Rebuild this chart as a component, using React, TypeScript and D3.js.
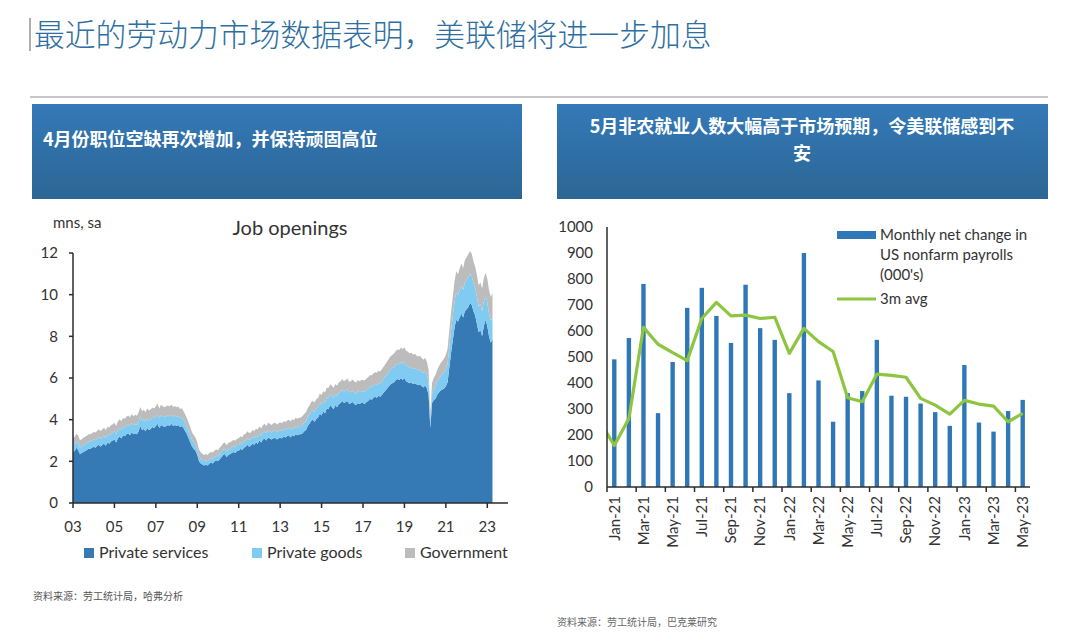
import React from 'react';
import * as d3 from 'd3';

// ---- Left chart: JOLTS job openings, mns, sa (monthly, Jan-2003 .. Apr-2023) ----
const startYear = 2003;

const privateServices = [
  2.45, 2.5, 2.65, 2.55, 2.35, 2.4, 2.45, 2.5, 2.55, 2.6, 2.6, 2.65,
  2.7, 2.65, 2.75, 2.8, 2.7, 2.8, 2.85, 2.75, 2.9, 2.85, 2.95, 3.0,
  3.05, 2.9, 3.1, 3.2, 3.1, 3.25, 3.2, 3.3, 3.35, 3.25, 3.4, 3.3,
  3.35, 3.3, 3.45, 3.7, 3.5, 3.55, 3.45, 3.6, 3.5, 3.55, 3.65, 3.6,
  3.7, 3.8, 3.6, 3.75, 3.7, 3.65, 3.7, 3.75, 3.7, 3.8, 3.7, 3.75,
  3.7, 3.75, 3.65, 3.7, 3.6, 3.45, 3.3, 3.1, 2.9, 2.7, 2.6, 2.5,
  2.3, 2.0, 1.9, 1.85, 1.8, 1.85, 1.8, 1.9, 1.95, 1.9, 2.0, 2.05,
  2.0, 2.1, 2.2, 2.3, 2.35, 2.2, 2.3, 2.35, 2.4, 2.45, 2.4, 2.5,
  2.5, 2.6, 2.55, 2.65, 2.7, 2.8, 2.7, 2.75, 2.85, 2.8, 2.9, 2.85,
  3.0, 2.9, 3.05, 3.1, 3.0, 3.15, 3.1, 3.05, 3.1, 3.15, 3.05, 3.1,
  3.15, 3.1, 3.2, 3.15, 3.2, 3.25, 3.15, 3.25, 3.2, 3.3, 3.25, 3.3,
  3.3, 3.35, 3.45, 3.5, 3.7, 3.8, 3.95, 4.0, 3.9, 4.05, 4.1, 4.3,
  4.2, 4.4, 4.3, 4.55, 4.5, 4.7, 4.6, 4.5, 4.7, 4.6, 4.75, 4.8,
  4.9, 4.8, 4.85, 4.9, 4.75, 4.8, 4.85, 4.75, 4.7, 4.8, 4.75, 4.8,
  4.8, 4.75, 4.85, 4.9, 5.0, 4.95, 5.05, 5.1, 5.05, 5.15, 5.1, 5.2,
  5.3, 5.4, 5.5, 5.6, 5.7, 5.75, 5.8, 5.9, 5.95, 5.9, 6.0, 5.9,
  6.0, 5.85, 5.8, 5.75, 5.8, 5.7, 5.75, 5.7, 5.65, 5.7, 5.6, 5.55,
  5.65, 5.5, 5.2, 3.6, 4.8, 4.95, 5.0, 5.2, 5.3, 5.4, 5.45, 5.5,
  5.6, 5.8, 6.5, 7.2, 7.8, 8.4, 8.8, 8.7, 8.9, 9.1, 8.9, 9.2,
  9.3, 9.4, 9.6, 9.5, 9.2, 9.0, 8.6, 8.2, 8.3, 8.0, 8.5, 8.8,
  8.5, 8.0, 7.7, 7.85,
];

const privateGoods = [
  .33, .32, .33, .34, .32, .33, .34, .33, .34, .35, .34, .35,
  .35, .36, .35, .37, .36, .37, .38, .37, .38, .39, .38, .39,
  .40, .39, .41, .40, .42, .41, .42, .43, .42, .43, .44, .43,
  .44, .45, .44, .46, .45, .46, .45, .47, .46, .47, .46, .47,
  .47, .48, .46, .47, .46, .47, .46, .45, .46, .45, .44, .45,
  .44, .43, .42, .42, .40, .39, .37, .36, .34, .32, .30, .28,
  .26, .24, .22, .21, .20, .20, .21, .20, .21, .22, .21, .22,
  .23, .24, .25, .26, .25, .26, .27, .26, .27, .28, .27, .28,
  .29, .30, .29, .31, .30, .31, .32, .31, .32, .33, .32, .33,
  .33, .34, .33, .34, .35, .34, .35, .34, .35, .36, .35, .36,
  .36, .35, .36, .37, .36, .37, .38, .37, .38, .39, .38, .39,
  .40, .41, .42, .43, .44, .45, .46, .47, .48, .49, .50, .51,
  .52, .51, .53, .52, .54, .53, .55, .54, .53, .54, .55, .54,
  .55, .54, .55, .56, .55, .54, .55, .56, .55, .56, .57, .56,
  .57, .58, .59, .58, .60, .61, .60, .62, .63, .62, .64, .65,
  .66, .67, .68, .70, .71, .72, .73, .74, .75, .76, .77, .78,
  .78, .76, .77, .75, .74, .75, .73, .72, .71, .72, .70, .69,
  .68, .66, .60, .30, .45, .52, .58, .62, .66, .70, .74, .78,
  .82, .88, .98, 1.08, 1.18, 1.25, 1.30, 1.28, 1.32, 1.35, 1.33, 1.38,
  1.40, 1.42, 1.40, 1.38, 1.35, 1.30, 1.28, 1.22, 1.25, 1.20, 1.18, 1.15,
  1.12, 1.10, 1.05, 1.02,
];

const government = [
  .36, .35, .34, .35, .34, .33, .34, .35, .34, .35, .36, .35,
  .36, .37, .36, .37, .38, .37, .38, .39, .38, .39, .40, .39,
  .40, .41, .40, .42, .41, .42, .43, .42, .43, .44, .43, .44,
  .45, .44, .46, .45, .46, .47, .46, .47, .48, .47, .48, .47,
  .48, .49, .48, .50, .49, .48, .49, .48, .47, .48, .47, .46,
  .46, .45, .44, .43, .42, .41, .40, .39, .38, .37, .36, .35,
  .34, .33, .32, .31, .30, .30, .29, .30, .29, .30, .31, .30,
  .30, .31, .30, .31, .30, .31, .32, .31, .30, .31, .32, .31,
  .32, .31, .32, .33, .32, .33, .34, .33, .34, .33, .34, .35,
  .35, .34, .35, .36, .35, .36, .35, .36, .37, .36, .37, .36,
  .37, .38, .37, .38, .39, .38, .39, .40, .39, .40, .41, .40,
  .41, .42, .41, .43, .42, .43, .44, .43, .44, .45, .44, .45,
  .46, .45, .47, .46, .48, .47, .48, .49, .48, .49, .50, .49,
  .50, .51, .50, .52, .51, .52, .53, .52, .53, .54, .53, .54,
  .54, .55, .54, .56, .55, .56, .57, .56, .57, .58, .57, .58,
  .59, .60, .61, .62, .63, .64, .65, .66, .67, .68, .69, .70,
  .70, .69, .70, .68, .69, .67, .68, .66, .67, .65, .66, .64,
  .64, .62, .60, .45, .52, .54, .56, .58, .60, .62, .64, .66,
  .70, .74, .80, .86, .92, .98, 1.02, 1.00, 1.04, 1.06, 1.04, 1.08,
  1.10, 1.12, 1.10, 1.08, 1.06, 1.04, 1.06, 1.02, 1.05, 1.08, 1.12, 1.10,
  1.15, 1.12, 1.14, 1.20,
];

const leftYTicks = [0, 2, 4, 6, 8, 10, 12];
const leftXTicks = [2003, 2005, 2007, 2009, 2011, 2013, 2015, 2017, 2019, 2021, 2023];

const seriesNames = ['Private services', 'Private goods', 'Government'];
const seriesColors = ['#3579b5', '#7fcbf1', '#bcbcbc'];

// ---- Right chart: US nonfarm payrolls, monthly net change (000's) ----
const payrollMonths = [
  'Jan-21', 'Feb-21', 'Mar-21', 'Apr-21', 'May-21', 'Jun-21', 'Jul-21', 'Aug-21', 'Sep-21', 'Oct-21', 'Nov-21', 'Dec-21',
  'Jan-22', 'Feb-22', 'Mar-22', 'Apr-22', 'May-22', 'Jun-22', 'Jul-22', 'Aug-22', 'Sep-22', 'Oct-22', 'Nov-22', 'Dec-22',
  'Jan-23', 'Feb-23', 'Mar-23', 'Apr-23', 'May-23',
];
const payrollChange = [
  491, 573, 781, 284, 481, 689, 766, 658, 554, 778, 611, 566,
  361, 900, 410, 251, 361, 369, 566, 351, 347, 321, 288, 235,
  469, 248, 213, 292, 335,
];
// 3m avg, with the Dec-20 value that the line enters from
const avgDec20 = 252;
const payrollAvg3m = [
  160, 263, 614, 549, 517, 486, 648, 710, 658, 661, 648, 653,
  514, 610, 559, 521, 343, 328, 434, 429, 422, 341, 315, 280,
  333, 319, 311, 251, 283,
];
const rightYTicks = [0, 100, 200, 300, 400, 500, 600, 700, 800, 900, 1000];

const latin = 'Lato, "Noto Sans", sans-serif';
const cjk = '"Noto Sans CJK SC", sans-serif';
const axisColor = '#2b2b2b';
const textColor = '#333';

function JobOpenings() {
  const x = d3.scaleLinear().domain([2003, 2024]).range([73, 508]);
  const y = d3.scaleLinear().domain([0, 12]).range([503, 253]);

  const rows = privateServices.map((v, i) => ({
    t: startYear + i / 12,
    s: v,
    g: privateGoods[i],
    gov: government[i],
  }));
  const stacked = d3.stack<any>().keys(['s', 'g', 'gov'])(rows);
  const area = d3.area<any>()
    .x(d => x(d.data.t))
    .y0(d => y(d[0]))
    .y1(d => y(d[1]));

  const legendX = [84, 252, 405];

  return (
    <g>
      <text x={53} y={228} fontFamily={latin} fontSize={15} fill={textColor}>mns, sa</text>
      <text x={290} y={235} textAnchor="middle" fontFamily={latin} fontSize={20} fill={textColor}>Job openings</text>
      {stacked.map((s, i) => (
        <path key={i} d={area(s) || ''} fill={seriesColors[i]} />
      ))}
      <line x1={73} x2={73} y1={253} y2={503} stroke={axisColor} strokeWidth={1.5} />
      {leftYTicks.map(t => (
        <g key={t}>
          <line x1={69} x2={73} y1={y(t)} y2={y(t)} stroke={axisColor} strokeWidth={1.5} />
          <text x={58} y={y(t)} dy="0.35em" textAnchor="end" fontFamily={latin} fontSize={15} fill={textColor}>{t}</text>
        </g>
      ))}
      <line x1={73} x2={508} y1={503} y2={503} stroke={axisColor} strokeWidth={1.5} />
      {leftXTicks.map(t => (
        <g key={t}>
          <line x1={x(t)} x2={x(t)} y1={503} y2={508} stroke={axisColor} strokeWidth={1.5} />
          <text x={x(t)} y={532} textAnchor="middle" fontFamily={latin} fontSize={15} fill={textColor}>
            {String(t % 100).padStart(2, '0')}
          </text>
        </g>
      ))}
      {seriesNames.map((n, i) => (
        <g key={n}>
          <rect x={legendX[i]} y={548} width={10} height={10} fill={seriesColors[i]} />
          <text x={legendX[i] + 15} y={558} fontFamily={latin} fontSize={16} fill={textColor}>{n}</text>
        </g>
      ))}
    </g>
  );
}

function Payrolls() {
  const left = 607;
  const right = 1030;
  const x = d3.scaleBand<string>().domain(payrollMonths).range([left, right]);
  const y = d3.scaleLinear().domain([0, 1000]).range([487, 227]);
  const step = x.step();
  const barW = step * 0.3;
  const cx = (m: string) => (x(m) as number) + step / 2;

  const pts: [number, number][] = [
    [cx(payrollMonths[0]) - step, y(avgDec20)],
    ...payrollAvg3m.map((v, i) => [cx(payrollMonths[i]), y(v)] as [number, number]),
  ];
  const line = d3.line();

  return (
    <g>
      <defs>
        <clipPath id="payClip">
          <rect x={left} y={200} width={right - left + 10} height={300} />
        </clipPath>
      </defs>
      {payrollMonths.map((m, i) => (
        <rect key={m} x={cx(m) - barW / 2} y={y(payrollChange[i])} width={barW}
          height={487 - y(payrollChange[i])} fill="#2f77b7" />
      ))}
      <path d={line(pts) || ''} fill="none" stroke="#8dc540" strokeWidth={3.2}
        strokeLinejoin="round" clipPath="url(#payClip)" />
      <line x1={left} x2={left} y1={227} y2={487} stroke={axisColor} strokeWidth={1.5} />
      {rightYTicks.map(t => (
        <text key={t} x={593} y={y(t)} dy="0.35em" textAnchor="end" fontFamily={latin}
          fontSize={15} fill={textColor}>{t}</text>
      ))}
      <line x1={left} x2={right} y1={487} y2={487} stroke={axisColor} strokeWidth={1.5} />
      {payrollMonths.map((m, i) => i % 2 === 0 ? (
        <g key={m}>
          <line x1={x(m) as number} x2={x(m) as number} y1={487} y2={492} stroke={axisColor} strokeWidth={1.5} />
          <text transform={`translate(${cx(m)},496) rotate(-90)`} dy="0.35em" textAnchor="end"
            fontFamily={latin} fontSize={15} fill={textColor}>{m}</text>
        </g>
      ) : null)}
      <rect x={837} y={231} width={39} height={8} fill="#2f77b7" />
      <text fontFamily={latin} fontSize={15} fill={textColor}>
        <tspan x={880} y={240}>Monthly net change in</tspan>
        <tspan x={880} y={260}>US nonfarm payrolls</tspan>
        <tspan x={880} y={280}>(000's)</tspan>
      </text>
      <line x1={837} x2={876} y1={299} y2={299} stroke="#8dc540" strokeWidth={3.2} />
      <text x={880} y={304} fontFamily={latin} fontSize={15} fill={textColor}>3m avg</text>
    </g>
  );
}

export default function App() {
  return (
    <svg width={1080} height={641} viewBox="0 0 1080 641"
      style={{ position: 'absolute', left: 0, top: 0, background: '#fff' }}>
      <defs>
        <linearGradient id="hdr" x1="0" y1="0" x2="0" y2="1">
          <stop offset="0" stopColor="#3479b8" />
          <stop offset="1" stopColor="#2c6694" />
        </linearGradient>
      </defs>
      <rect width={1080} height={641} fill="#fff" />
      <line x1={30} x2={30} y1={18} y2={51} stroke="#777" strokeWidth={1.2} />
      <text x={34} y={46} fontFamily={cjk} fontWeight={300} fontSize={30.8} fill="#2f6f9f">
        最近的劳动力市场数据表明，美联储将进一步加息
      </text>
      <line x1={30} x2={1048} y1={97} y2={97} stroke="#b5b5b5" strokeWidth={1.5} />

      <rect x={32} y={104} width={490} height={95} fill="url(#hdr)" />
      <text x={43} y={146} fontFamily={cjk} fontWeight={700} fontSize={18} fill="#fff">
        4月份职位空缺再次增加，并保持顽固高位
      </text>
      <rect x={557} y={104} width={491} height={95} fill="url(#hdr)" />
      <text fontFamily={cjk} fontWeight={700} fontSize={18} fill="#fff" textAnchor="middle">
        <tspan x={802} y={133}>5月非农就业人数大幅高于市场预期，令美联储感到不</tspan>
        <tspan x={802} y={160}>安</tspan>
      </text>

      <JobOpenings />
      <Payrolls />

      <text x={33} y={600} fontFamily={cjk} fontSize={10} fill="#555">资料来源：劳工统计局，哈弗分析</text>
      <text x={557} y={626} fontFamily={cjk} fontSize={10} fill="#666">资料来源：劳工统计局，巴克莱研究</text>
    </svg>
  );
}
